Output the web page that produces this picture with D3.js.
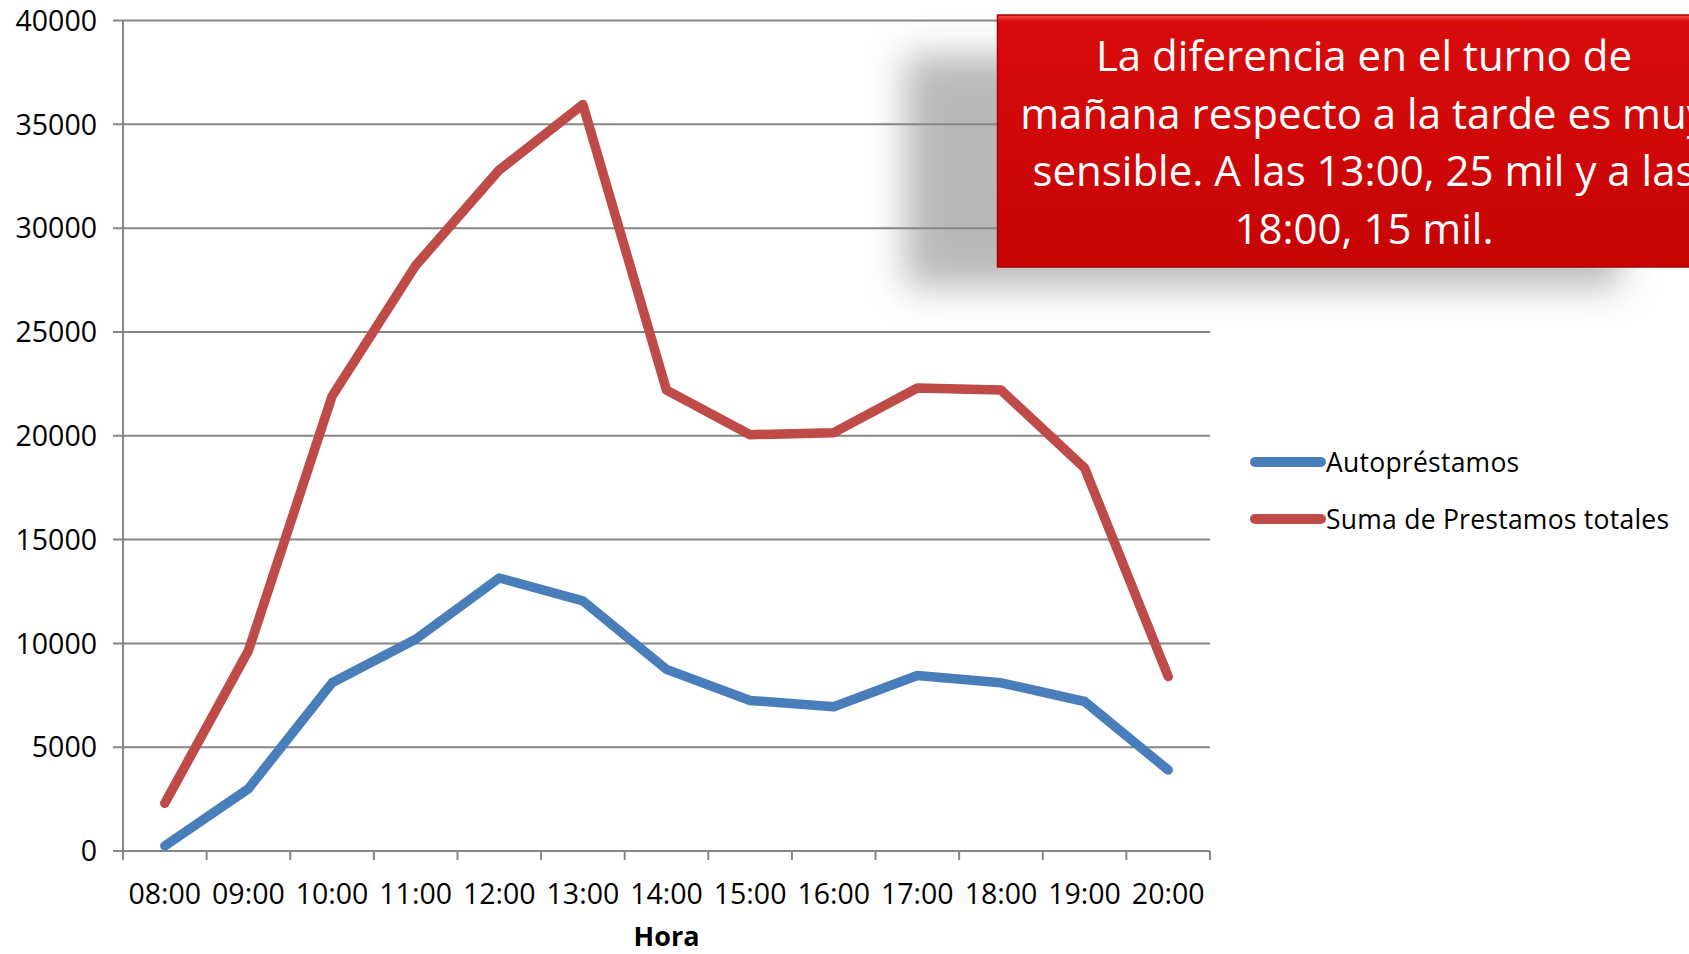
<!DOCTYPE html>
<html>
<head>
<meta charset="utf-8">
<script src="https://cdn.jsdelivr.net/npm/d3@7"></script>
<style>
  html, body { margin: 0; padding: 0; background: #fff; }
  svg { display: block; }
  text { font-family: "Open Sans", "Liberation Sans", sans-serif; }
</style>
</head>
<body>
<div id="chart"></div>
<script>
// Data
var hours = ["08:00", "09:00", "10:00", "11:00", "12:00", "13:00", "14:00",
             "15:00", "16:00", "17:00", "18:00", "19:00", "20:00"];
var autoprestamos = [250, 3000, 8100, 10200, 13150, 12050, 8750, 7250, 6950, 8450, 8100, 7200, 3900];
var totales = [2300, 9650, 21900, 28200, 32800, 35950, 22200, 20050, 20150, 22300, 22200, 18450, 8400];
var yTicks = [0, 5000, 10000, 15000, 20000, 25000, 30000, 35000, 40000];
var seriesNames = ["Autopréstamos", "Suma de Prestamos totales"];
var noteLines = ["La diferencia en el turno de",
                 "mañana respecto a la tarde es muy",
                 "sensible. A las 13:00, 25 mil y a las",
                 "18:00, 15 mil."];

var W = 1689, H = 954;
var plot = {left: 123, right: 1210, top: 20.5, bottom: 851};
var colors = ["#4A7EBB", "#BE4B48"];
var gridColor = "#868686";

var svg = d3.select("#chart").append("svg")
    .attr("width", W)
    .attr("height", H);

var x = d3.scaleBand().domain(hours).range([plot.left, plot.right]).padding(0);
var y = d3.scaleLinear().domain([0, 40000]).range([plot.bottom, plot.top]);

// gridlines
svg.append("g").selectAll("line")
    .data(yTicks)
    .enter().append("line")
    .attr("x1", plot.left - 10)
    .attr("x2", plot.right)
    .attr("y1", function(d) { return y(d); })
    .attr("y2", function(d) { return y(d); })
    .attr("stroke", gridColor)
    .attr("stroke-width", 2);

// y labels
svg.append("g").selectAll("text")
    .data(yTicks)
    .enter().append("text")
    .attr("x", plot.left - 26)
    .attr("y", function(d) { return y(d); })
    .attr("dy", "0.36em")
    .attr("text-anchor", "end")
    .style("font-size", "28.5px")
    .attr("fill", "#000")
    .text(function(d) { return d; });

// y axis line
svg.append("line")
    .attr("x1", plot.left).attr("x2", plot.left)
    .attr("y1", plot.top).attr("y2", plot.bottom)
    .attr("stroke", gridColor).attr("stroke-width", 2);

// x tick marks between categories
var edges = hours.map(function(h) { return x(h); }).concat([plot.right]);
svg.append("g").selectAll("line")
    .data(edges)
    .enter().append("line")
    .attr("x1", function(d) { return d; })
    .attr("x2", function(d) { return d; })
    .attr("y1", plot.bottom)
    .attr("y2", plot.bottom + 9)
    .attr("stroke", gridColor)
    .attr("stroke-width", 2);

// x labels
svg.append("g").selectAll("text")
    .data(hours)
    .enter().append("text")
    .attr("x", function(d) { return x(d) + x.bandwidth() / 2; })
    .attr("y", 904)
    .attr("text-anchor", "middle")
    .style("font-size", "28.5px")
    .attr("fill", "#000")
    .text(function(d) { return d; });

svg.append("text")
    .attr("x", (plot.left + plot.right) / 2)
    .attr("y", 946)
    .attr("text-anchor", "middle")
    .style("font-size", "27px")
    .style("font-weight", "bold")
    .text("Hora");

// lines
var line = d3.line()
    .x(function(d, i) { return x(hours[i]) + x.bandwidth() / 2; })
    .y(function(d) { return y(d); });

[autoprestamos, totales].forEach(function(s, i) {
    svg.append("path")
        .datum(s)
        .attr("d", line)
        .attr("fill", "none")
        .attr("stroke", colors[i])
        .attr("stroke-width", 9.5)
        .attr("stroke-linecap", "round")
        .attr("stroke-linejoin", "round");
});

// legend
var legend = svg.append("g").selectAll("g")
    .data(seriesNames)
    .enter().append("g")
    .attr("transform", function(d, i) { return "translate(1255," + (462 + i * 57) + ")"; });

legend.append("line")
    .attr("x1", 0).attr("x2", 66)
    .attr("stroke", function(d, i) { return colors[i]; })
    .attr("stroke-width", 10)
    .attr("stroke-linecap", "round");

legend.append("text")
    .attr("x", 71)
    .attr("dy", "0.36em")
    .style("font-size", "26.5px")
    .style("letter-spacing", "0.25px")
    .text(function(d) { return d; });

// note box with soft shadow
var defs = svg.append("defs");
defs.append("filter")
    .attr("id", "blur")
    .attr("x", "-20%").attr("y", "-40%")
    .attr("width", "140%").attr("height", "180%")
  .append("feGaussianBlur")
    .attr("stdDeviation", 18);

var grad = defs.append("linearGradient")
    .attr("id", "boxFill")
    .attr("x1", 0).attr("y1", 0).attr("x2", 0).attr("y2", 1);
grad.append("stop").attr("offset", "0%").attr("stop-color", "#ff5050");
grad.append("stop").attr("offset", "2.5%").attr("stop-color", "#d80c0c");
grad.append("stop").attr("offset", "100%").attr("stop-color", "#c60404");

svg.append("rect")
    .attr("x", 905).attr("y", 55)
    .attr("width", 715).attr("height", 232)
    .attr("fill", "#8a8a8a")
    .attr("opacity", 0.6)
    .attr("filter", "url(#blur)");

svg.append("rect")
    .attr("x", 997.5).attr("y", 15)
    .attr("width", 740).attr("height", 252)
    .attr("fill", "url(#boxFill)")
    .attr("stroke", "#a80000")
    .attr("stroke-width", 1.5);

svg.append("g").selectAll("text")
    .data(noteLines)
    .enter().append("text")
    .attr("x", 1364)
    .attr("y", function(d, i) { return 71 + i * 57.5; })
    .attr("text-anchor", "middle")
    .attr("fill", "#fff")
    .style("font-size", "42px")
    .text(function(d) { return d; });
</script>
</body>
</html>
